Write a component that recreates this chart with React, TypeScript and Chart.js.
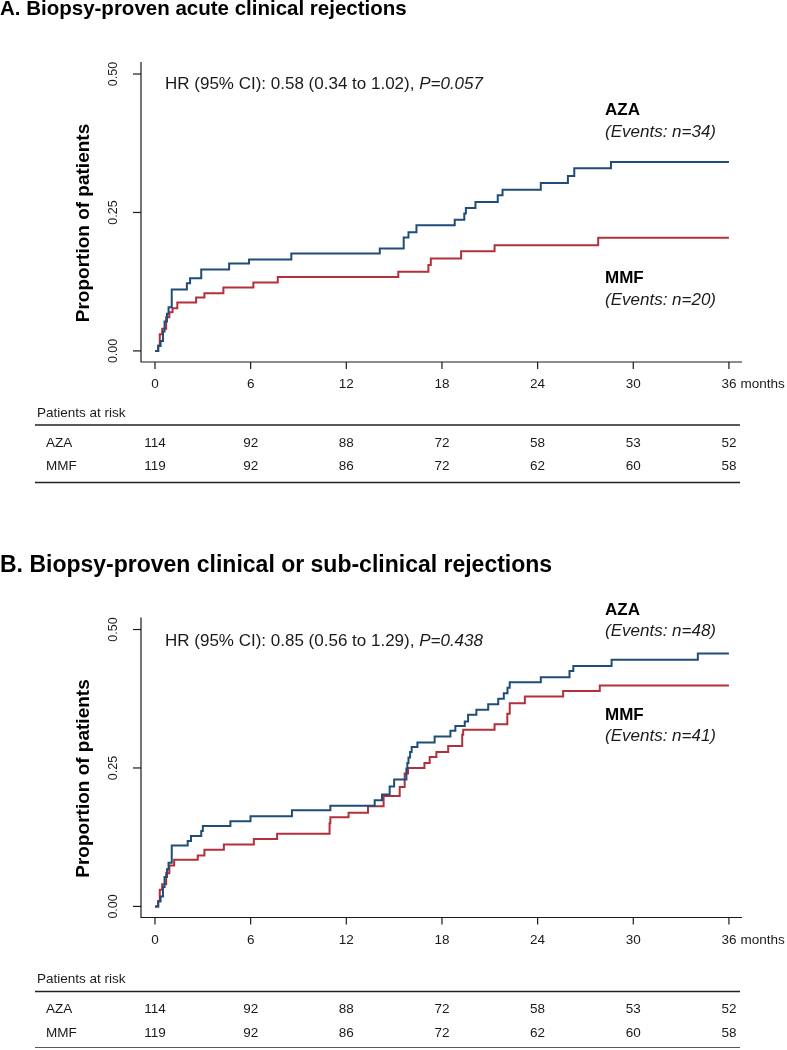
import { useEffect, useRef } from "react";
import { Chart, registerables } from "chart.js";
Chart.register(...registerables);

// ---------- data ----------
const monthTicks = [0, 6, 12, 18, 24, 30, 36];
const yTicks = [0, 0.25, 0.5];
const yTickLabels = ["0.00", "0.25", "0.50"];
const riskAZA = [114, 92, 88, 72, 58, 53, 52];
const riskMMF = [119, 92, 86, 72, 62, 60, 58];

// Panel A: biopsy-proven acute clinical rejections
const timeA_AZA = [0, 0.2, 0.35, 0.5, 0.6, 0.75, 0.85, 1.05, 2.0, 2.2, 2.9, 4.65, 5.9, 8.55, 14.1, 15.6, 15.9, 16.4, 18.8, 19.4, 19.5, 20.1, 21.5, 21.8, 24.2, 25.9, 26.3, 28.6, 36];
const propA_AZA = [0, 0.009, 0.018, 0.035, 0.053, 0.067, 0.079, 0.111, 0.122, 0.131, 0.147, 0.158, 0.165, 0.176, 0.185, 0.205, 0.2145, 0.227, 0.237, 0.248, 0.258, 0.269, 0.281, 0.291, 0.303, 0.316, 0.33, 0.341, 0.341];
const timeA_MMF = [0, 0.2, 0.3, 0.45, 0.7, 0.9, 1.1, 1.4, 2.58, 3.1, 4.29, 6.17, 7.7, 15.26, 17.15, 17.3, 19.2, 21.3, 27.8, 36];
const propA_MMF = [0, 0.01, 0.03, 0.04, 0.061, 0.07, 0.077, 0.0875, 0.0965, 0.104, 0.1145, 0.1235, 0.1337, 0.143, 0.155, 0.167, 0.18, 0.1906, 0.2045, 0.2045];

// Panel B: biopsy-proven clinical or sub-clinical rejections
const timeB_AZA = [0, 0.2, 0.35, 0.5, 0.6, 0.75, 0.85, 1.05, 2.05, 2.26, 2.9, 3.0, 4.73, 5.99, 8.59, 11.0, 13.78, 14.24, 14.72, 15.0, 15.77, 15.83, 15.9, 16.0, 16.1, 16.46, 17.54, 18.53, 18.84, 19.43, 19.64, 20.16, 20.9, 21.53, 21.88, 22.11, 22.25, 24.2, 26.0, 26.24, 28.64, 34.05, 36];
const propB_AZA = [0, 0.009, 0.018, 0.035, 0.053, 0.067, 0.079, 0.11, 0.118, 0.127, 0.136, 0.145, 0.154, 0.163, 0.1735, 0.182, 0.1916, 0.202, 0.2167, 0.229, 0.249, 0.259, 0.269, 0.279, 0.288, 0.296, 0.307, 0.317, 0.326, 0.334, 0.346, 0.355, 0.365, 0.375, 0.385, 0.395, 0.405, 0.414, 0.425, 0.434, 0.4456, 0.4566, 0.4566];
const timeB_MMF = [0, 0.2, 0.3, 0.45, 0.7, 0.9, 1.2, 2.68, 3.1, 4.32, 6.2, 7.66, 10.95, 11.0, 12.14, 13.36, 14.34, 15.35, 15.66, 15.87, 16.9, 17.23, 17.65, 18.39, 19.27, 19.33, 21.3, 22.1, 22.25, 23.2, 25.6, 27.9, 36];
const propB_MMF = [0, 0.01, 0.03, 0.04, 0.06, 0.074, 0.0844, 0.092, 0.1024, 0.112, 0.1217, 0.131, 0.15, 0.161, 0.169, 0.1807, 0.1994, 0.2157, 0.24, 0.25, 0.259, 0.27, 0.279, 0.2897, 0.31, 0.319, 0.329, 0.348, 0.367, 0.379, 0.389, 0.399, 0.399];

// ---------- style ----------
const FONT = '"Liberation Sans", Arial, Helvetica, sans-serif';
const BLUE = "#1f4d78";
const RED = "#b3303b";
const INK = "#1a1a1a";
const W = 787;

type PanelCfg = {
  top: number;
  height: number;
  plotTop: number;
  plotBottom: number;
  title: string;
  titleY: number;
  titleSize: number;
  hrText: string;
  pText: string;
  hrY: number;
  azaEvents: string;
  azaY: number;
  mmfEvents: string;
  mmfY: number;
  riskTitleY: number;
  line1Y: number;
  row1Y: number;
  row2Y: number;
  line2Y: number;
  azaT: number[];
  azaV: number[];
  mmfT: number[];
  mmfV: number[];
};

const panels: PanelCfg[] = [
  {
    top: 0,
    height: 520,
    plotTop: 62,
    plotBottom: 362,
    title: "A. Biopsy-proven acute clinical rejections",
    titleY: 15,
    titleSize: 20.5,
    hrText: "HR (95% CI): 0.58 (0.34 to 1.02), ",
    pText: "P=0.057",
    hrY: 89,
    azaEvents: "(Events: n=34)",
    azaY: 115,
    mmfEvents: "(Events: n=20)",
    mmfY: 283,
    riskTitleY: 416.5,
    line1Y: 425,
    row1Y: 446.5,
    row2Y: 470,
    line2Y: 482.5,
    azaT: timeA_AZA,
    azaV: propA_AZA,
    mmfT: timeA_MMF,
    mmfV: propA_MMF,
  },
  {
    top: 520,
    height: 528,
    plotTop: 617.5,
    plotBottom: 917.5,
    title: "B. Biopsy-proven clinical or sub-clinical rejections",
    titleY: 572,
    titleSize: 23,
    hrText: "HR (95% CI): 0.85 (0.56 to 1.29), ",
    pText: "P=0.438",
    hrY: 646,
    azaEvents: "(Events: n=48)",
    azaY: 614.5,
    mmfEvents: "(Events: n=41)",
    mmfY: 719.5,
    riskTitleY: 983,
    line1Y: 991.5,
    row1Y: 1013,
    row2Y: 1036.5,
    line2Y: 1048,
    azaT: timeB_AZA,
    azaV: propB_AZA,
    mmfT: timeB_MMF,
    mmfV: propB_MMF,
  },
];

function toPoints(t: number[], v: number[]) {
  return t.map((x, i) => ({ x, y: v[i] }));
}

function Panel({ cfg }: { cfg: PanelCfg }) {
  const ref = useRef<HTMLCanvasElement | null>(null);
  useEffect(() => {
    const canvas = ref.current;
    if (!canvas) return;
    const off = cfg.top;
    const decor = {
      id: "kmDecor",
      afterDraw(chart: any) {
        const ctx = chart.ctx as CanvasRenderingContext2D;
        const xs = chart.scales.x;
        const ys = chart.scales.y;
        const a = chart.chartArea;
        ctx.save();
        ctx.fillStyle = INK;
        ctx.strokeStyle = INK;
        ctx.lineWidth = 1.2;
        // axes (L shape)
        ctx.beginPath();
        ctx.moveTo(a.left, a.top);
        ctx.lineTo(a.left, a.bottom);
        ctx.lineTo(a.right, a.bottom);
        ctx.stroke();
        // y ticks
        ctx.font = `12.5px ${FONT}`;
        yTicks.forEach((v, i) => {
          const y = ys.getPixelForValue(v);
          ctx.beginPath();
          ctx.moveTo(a.left - 8, y);
          ctx.lineTo(a.left, y);
          ctx.stroke();
          ctx.save();
          ctx.translate(a.left - 24, y);
          ctx.rotate(-Math.PI / 2);
          ctx.textAlign = "center";
          ctx.textBaseline = "alphabetic";
          ctx.fillText(yTickLabels[i], 0, 0);
          ctx.restore();
        });
        // x ticks
        ctx.font = `13.5px ${FONT}`;
        ctx.textAlign = "center";
        ctx.textBaseline = "alphabetic";
        monthTicks.forEach((m, i) => {
          const x = xs.getPixelForValue(m);
          ctx.beginPath();
          ctx.moveTo(x, a.bottom);
          ctx.lineTo(x, a.bottom + 7);
          ctx.stroke();
          ctx.fillText(String(m), x, a.bottom + 26);
          if (i === monthTicks.length - 1) {
            const w = ctx.measureText(String(m)).width;
            ctx.textAlign = "left";
            ctx.fillText("months", x + w / 2 + 4, a.bottom + 26);
            ctx.textAlign = "center";
          }
        });
        // y axis title
        ctx.save();
        ctx.font = `bold 19px ${FONT}`;
        ctx.fillStyle = "#000";
        ctx.translate(89, (a.top + a.bottom) / 2 + 11);
        ctx.rotate(-Math.PI / 2);
        ctx.textAlign = "center";
        ctx.fillText("Proportion of patients", 0, 0);
        ctx.restore();
        // panel title
        ctx.textAlign = "left";
        ctx.font = `bold ${cfg.titleSize}px ${FONT}`;
        ctx.fillStyle = "#000";
        ctx.fillText(cfg.title, 0, cfg.titleY - off);
        // HR text
        ctx.fillStyle = INK;
        ctx.font = `17px ${FONT}`;
        ctx.fillText(cfg.hrText, 165, cfg.hrY - off);
        const hw = ctx.measureText(cfg.hrText).width;
        ctx.font = `italic 17px ${FONT}`;
        ctx.fillText(cfg.pText, 165 + hw, cfg.hrY - off);
        // group labels
        const lx = 605;
        ctx.font = `bold 17px ${FONT}`;
        ctx.fillStyle = "#000";
        ctx.fillText("AZA", lx, cfg.azaY - off);
        ctx.fillText("MMF", lx, cfg.mmfY - off);
        ctx.fillStyle = INK;
        ctx.font = `italic 17px ${FONT}`;
        ctx.fillText(cfg.azaEvents, lx, cfg.azaY + 21.5 - off);
        ctx.fillText(cfg.mmfEvents, lx, cfg.mmfY + 21.5 - off);
        // at-risk table
        ctx.font = `13.5px ${FONT}`;
        ctx.fillText("Patients at risk", 37, cfg.riskTitleY - off);
        ctx.lineWidth = 1.5;
        ctx.strokeStyle = "#222";
        [cfg.line1Y, cfg.line2Y].forEach((ly) => {
          ctx.beginPath();
          ctx.moveTo(35, ly - off);
          ctx.lineTo(740, ly - off);
          ctx.stroke();
        });
        ctx.fillText("AZA", 46, cfg.row1Y - off);
        ctx.fillText("MMF", 46, cfg.row2Y - off);
        ctx.textAlign = "center";
        monthTicks.forEach((m, i) => {
          const x = xs.getPixelForValue(m);
          ctx.fillText(String(riskAZA[i]), x, cfg.row1Y - off);
          ctx.fillText(String(riskMMF[i]), x, cfg.row2Y - off);
        });
        ctx.restore();
      },
    };
    const chart = new Chart(canvas, {
      type: "line",
      data: {
        datasets: [
          {
            label: "AZA",
            data: toPoints(cfg.azaT, cfg.azaV),
            borderColor: BLUE,
            borderWidth: 2,
            pointRadius: 0,
            stepped: true,
            fill: false,
          },
          {
            label: "MMF",
            data: toPoints(cfg.mmfT, cfg.mmfV),
            borderColor: RED,
            borderWidth: 2,
            pointRadius: 0,
            stepped: true,
            fill: false,
          },
        ],
      },
      options: {
        animation: false,
        responsive: false,
        maintainAspectRatio: false,
        layout: {
          padding: {
            left: 141,
            right: W - 742,
            top: cfg.plotTop - off,
            bottom: cfg.height - (cfg.plotBottom - off),
          },
        },
        plugins: {
          legend: { display: false },
          tooltip: { enabled: false },
          title: { display: false },
        },
        scales: {
          x: { type: "linear", min: -0.878, max: 36.82, display: false },
          y: { type: "linear", min: -0.02, max: 0.5217, display: false },
        },
      },
      plugins: [decor],
    });
    return () => chart.destroy();
  }, [cfg]);
  return (
    <canvas
      ref={ref}
      width={W}
      height={cfg.height}
      style={{ position: "absolute", left: 0, top: cfg.top, width: W, height: cfg.height }}
    />
  );
}

export default function App() {
  return (
    <div style={{ position: "absolute", left: 0, top: 0, width: W, height: 1048, background: "#fff" }}>
      {panels.map((p, i) => (
        <Panel key={i} cfg={p} />
      ))}
    </div>
  );
}
